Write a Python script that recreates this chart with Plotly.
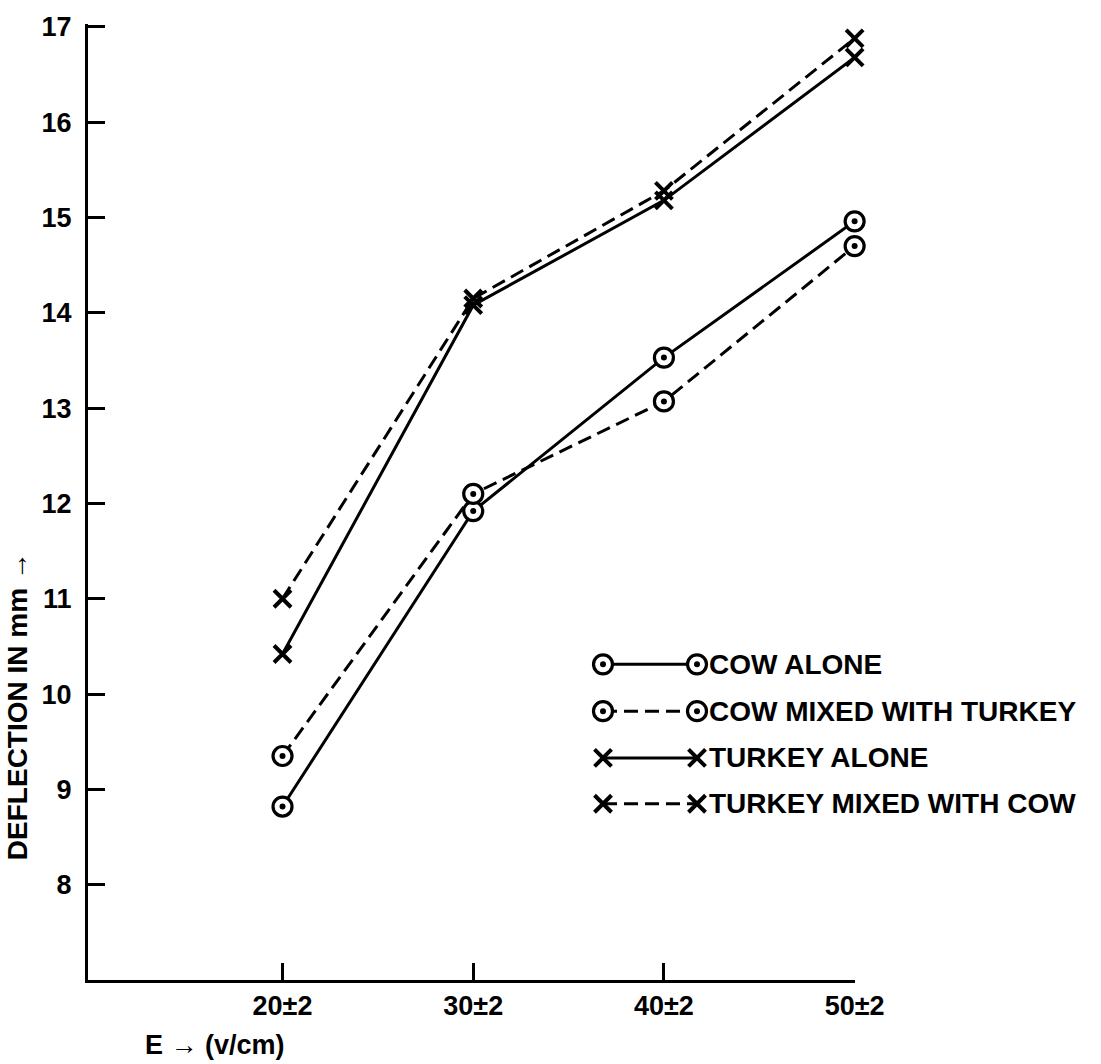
import plotly.graph_objects as go

# Field strength (v/cm) and deflection readings (mm)
field = [20, 30, 40, 50]
field_labels = ["20±2", "30±2", "40±2", "50±2"]
cow_alone = [8.82, 11.92, 13.53, 14.96]
cow_mixed = [9.35, 12.10, 13.07, 14.70]
turkey_alone = [10.42, 14.08, 15.18, 16.68]
turkey_mixed = [11.00, 14.15, 15.28, 16.88]
y_ticks = [8, 9, 10, 11, 12, 13, 14, 15, 16, 17]

series = [
    ("COW ALONE", cow_alone, "solid", "circle"),
    ("COW MIXED WITH TURKEY", cow_mixed, "dash", "circle"),
    ("TURKEY ALONE", turkey_alone, "solid", "cross"),
    ("TURKEY MIXED WITH COW", turkey_mixed, "dash", "cross"),
]

FONT = "Liberation Sans, Arial, Helvetica, sans-serif"
DASH = "14px,7px"

L, R, T, B = 88, 246, 20, 84
W, H = 1101, 1064
pw, ph = W - L - R, H - T - B


def marker_style(kind):
    if kind == "circle":
        return dict(symbol="circle", size=19, color="white",
                    line=dict(color="black", width=3.2))
    return dict(symbol="x-thin-open", size=17, color="black",
                line=dict(color="black", width=4))


def add_series(x, y, dash, kind, xa, ya):
    fig.add_trace(go.Scatter(
        x=x, y=y, mode="lines+markers", cliponaxis=False,
        line=dict(color="black", width=3, dash=DASH if dash == "dash" else "solid"),
        marker=marker_style(kind), showlegend=False, hoverinfo="skip",
        xaxis=xa, yaxis=ya,
    ))
    if kind == "circle":
        # centre dot of each ringed point
        fig.add_trace(go.Scatter(
            x=x, y=y, mode="markers", cliponaxis=False,
            marker=dict(symbol="circle", size=6, color="black", line=dict(width=0)),
            showlegend=False, hoverinfo="skip", xaxis=xa, yaxis=ya,
        ))


fig = go.Figure()

for name, vals, dash, kind in series:
    add_series(field, vals, dash, kind, "x", "y")

# Key drawn on an overlay axis in plot-fraction units
key_x0, key_x1 = (603 - L) / pw, (697 - L) / pw
key_rows = [663, 710, 757, 803]
for (name, vals, dash, kind), row in zip(series, key_rows):
    yf = (H - B - row) / ph
    add_series([key_x0, key_x1], [yf, yf], dash, kind, "x2", "y2")
    fig.add_annotation(
        x=(707 - L) / pw, y=yf, xref="paper", yref="paper",
        text=name, showarrow=False, xanchor="left", yanchor="middle",
        font=dict(family=FONT, size=28, color="black", weight="bold"),
    )

axis_common = dict(
    showline=True, linecolor="black", linewidth=3, mirror=False,
    ticks="inside", ticklen=17, tickwidth=2.5, tickcolor="black",
    showgrid=False, zeroline=False,
    tickfont=dict(family=FONT, size=27, color="black", weight="bold"),
)

fig.update_layout(
    width=W, height=H,
    margin=dict(l=L, r=R, t=T, b=B),
    paper_bgcolor="white", plot_bgcolor="white",
    xaxis=dict(range=[9.8, 50.02], tickmode="array", tickvals=field,
               ticktext=field_labels, ticklabelstandoff=0, **axis_common),
    yaxis=dict(range=[7.0, 17.03], tickmode="array", tickvals=y_ticks,
               ticklabelstandoff=8, **axis_common),
    xaxis2=dict(range=[0, 1], overlaying="x", visible=False, fixedrange=True),
    yaxis2=dict(range=[0, 1], overlaying="y", visible=False, fixedrange=True),
    showlegend=False,
)

fig.add_annotation(
    x=(215 - L) / pw, y=(H - B - 1045) / ph, xref="paper", yref="paper",
    text="E → (v/cm)", showarrow=False, xanchor="center", yanchor="middle",
    font=dict(family=FONT, size=27, color="black", weight="bold"),
)
fig.add_annotation(
    x=(17 - L) / pw, y=(H - B - 705) / ph, xref="paper", yref="paper",
    text="DEFLECTION IN mm →", showarrow=False, textangle=-90,
    xanchor="center", yanchor="middle",
    font=dict(family=FONT, size=28, color="black", weight="bold"),
)

fig.write_html("out.html")
